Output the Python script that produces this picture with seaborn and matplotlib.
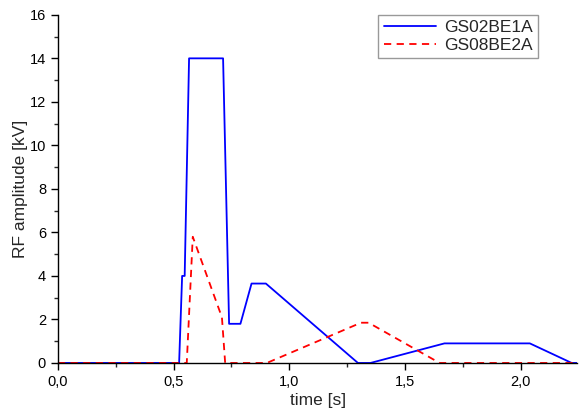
import numpy as np
import pandas as pd
import matplotlib
matplotlib.use("Agg")
import matplotlib.pyplot as plt
from matplotlib.ticker import MultipleLocator, FuncFormatter
import seaborn as sns

# RF amplitude programs
blue_t = [0.0, 0.524, 0.537, 0.548, 0.567, 0.714, 0.740, 0.789, 0.837, 0.899,
          1.297, 1.351, 1.671, 2.040, 2.221, 2.245]
blue_v = [0.0, 0.0, 4.0, 4.0, 14.0, 14.0, 1.8, 1.8, 3.65, 3.65,
          0.0, 0.0, 0.9, 0.9, 0.0, 0.0]
red_t = [0.0, 0.557, 0.583, 0.709, 0.723, 0.903, 1.310, 1.343, 1.650, 2.245]
red_v = [0.0, 0.0, 5.8, 2.1, 0.0, 0.0, 1.85, 1.85, 0.0, 0.0]
names = ["GS02BE1A", "GS08BE2A"]

sns.set_style("ticks")
plt.rcParams['font.family'] = ['Liberation Sans', 'DejaVu Sans']

fig = plt.figure(figsize=(5.79, 4.12), dpi=100)
ax = fig.add_axes([0.1, 0.119, 0.897, 0.845])

df_b = pd.DataFrame({"t": blue_t, "v": blue_v})
df_r = pd.DataFrame({"t": red_t, "v": red_v})
sns.lineplot(data=df_b, x="t", y="v", ax=ax, color="#0000ff", lw=1.3,
             label=names[0], sort=False)
sns.lineplot(data=df_r, x="t", y="v", ax=ax, color="#ff0000", lw=1.3,
             label=names[1], sort=False, dashes=False)
ax.lines[1].set_dashes([4, 3])

ax.set_xlim(0, 2.245)
ax.set_ylim(0, 16)
ax.xaxis.set_major_locator(MultipleLocator(0.5))
ax.xaxis.set_minor_locator(MultipleLocator(0.25))
ax.yaxis.set_major_locator(MultipleLocator(2))
ax.yaxis.set_minor_locator(MultipleLocator(1))
ax.xaxis.set_major_formatter(FuncFormatter(lambda x, p: f"{x:.1f}".replace('.', ',')))
ax.yaxis.set_major_formatter(FuncFormatter(lambda y, p: f"{y:.0f}"))
ax.tick_params(which='major', direction='out', length=5, width=1, labelsize=10.5, colors='black')
ax.tick_params(which='minor', direction='out', length=3, width=1)
for s in ['left', 'bottom']:
    ax.spines[s].set_color('black')
    ax.spines[s].set_linewidth(1)
sns.despine(ax=ax)

ax.set_xlabel("time [s]", fontsize=12.5, labelpad=3)
ax.set_ylabel("RF amplitude [kV]", fontsize=12.5, labelpad=1)

leg = ax.legend(loc='upper right', bbox_to_anchor=(0.925, 1.0), borderaxespad=0,
                fontsize=12.5, frameon=True, fancybox=False, handlelength=3.0,
                labelspacing=0.15, borderpad=0.3, handletextpad=0.5)
leg.get_frame().set_edgecolor('#808080')
leg.get_frame().set_linewidth(1)

fig.savefig("out.png", dpi=100)
